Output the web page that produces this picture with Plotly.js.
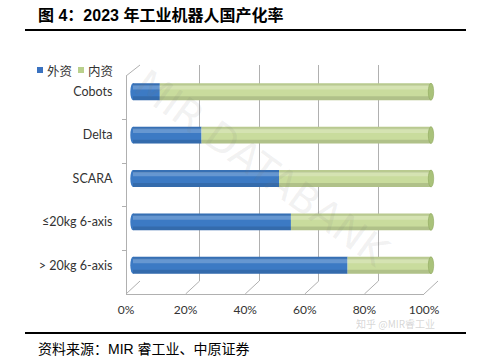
<!DOCTYPE html>
<html><head><meta charset="utf-8">
<script src="https://cdn.plot.ly/plotly-3.0.1.min.js"></script>
<style>html,body{margin:0;padding:0;background:#fff}#chart{width:479px;height:362px}</style>
</head><body><div id="chart"></div>
<script>
// ---- data ----
const categories = ['Cobots', 'Delta', 'SCARA', '≤20kg 6-axis', '> 20kg 6-axis'];
const foreignShare = [9, 23, 49, 53, 72];    // 外资
const domesticShare = [91, 77, 51, 47, 28];  // 内资
const seriesNames = ['外资', '内资'];
const tickValues = [0, 20, 40, 60, 80, 100];
const tickLabels = ['0%', '20%', '40%', '60%', '80%', '100%'];

// ---- layout helpers (pixels -> paper) ----
const W = 479, H = 362;
const px = x => x / W;
const py = y => 1 - y / H;

const BLUE = '#3c7ac4', GREEN = '#c9dc9d';
const totals = foreignShare.map((v, i) => v + domesticShare[i]);
const BW = 0.39;

const font = {family: 'Lato, "Noto Sans CJK SC", sans-serif', size: 12, color: '#333333'};
const catFont = {family: 'Lato, "Noto Sans CJK SC", sans-serif', size: 12.5, color: '#333333'};

const traces = [
  // dummy trace for the back-plane grid subplot
  {type: 'scatter', x: [0], y: [0], xaxis: 'x', yaxis: 'y', mode: 'markers',
   marker: {opacity: 0}, hoverinfo: 'skip', showlegend: false},
  {type: 'bar', orientation: 'h', name: seriesNames[0], y: categories, x: foreignShare, base: 0,
   width: BW, marker: {color: BLUE, line: {width: 0}}, xaxis: 'x2', yaxis: 'y2', showlegend: false},
  {type: 'bar', orientation: 'h', name: seriesNames[1], y: categories, x: domesticShare, base: foreignShare,
   width: BW, marker: {color: GREEN, line: {width: 0}}, xaxis: 'x2', yaxis: 'y2', showlegend: false},
  // cylinder highlight / shadow bands
  {type: 'bar', orientation: 'h', y: categories, x: totals, base: 0, width: 0.1, offset: -0.15,
   marker: {color: 'rgba(255,255,255,0.22)', line: {width: 0}}, xaxis: 'x2', yaxis: 'y2',
   hoverinfo: 'skip', showlegend: false},
  {type: 'bar', orientation: 'h', y: categories, x: totals, base: 0, width: 0.06, offset: -0.195,
   marker: {color: 'rgba(0,0,0,0.08)', line: {width: 0}}, xaxis: 'x2', yaxis: 'y2',
   hoverinfo: 'skip', showlegend: false},
  {type: 'bar', orientation: 'h', y: categories, x: totals, base: 0, width: 0.09, offset: 0.105,
   marker: {color: 'rgba(0,0,0,0.12)', line: {width: 0}}, xaxis: 'x2', yaxis: 'y2',
   hoverinfo: 'skip', showlegend: false},
  // dummy trace for the front axes
  {type: 'scatter', x: [0], y: [0], xaxis: 'x3', yaxis: 'y3', mode: 'markers',
   marker: {opacity: 0}, hoverinfo: 'skip', showlegend: false}
];

const GRID = '#b0b0b0';
const shapes = [];
// frame lines of the 3D box
shapes.push({type: 'line', xref: 'paper', yref: 'paper', x0: px(126), y0: py(76), x1: px(140), y1: py(65), line: {color: GRID, width: 1}});
tickValues.forEach(v => {
  const fx = 126 + v / 100 * 298, bx = 140 + v / 100 * 298;
  shapes.push({type: 'line', xref: 'paper', yref: 'paper', x0: px(fx), y0: py(294), x1: px(bx), y1: py(281), line: {color: GRID, width: 1}});
});
// top/bottom rules
shapes.push({type: 'line', xref: 'paper', yref: 'paper', x0: px(25), x1: px(466), y0: py(30), y1: py(30), line: {color: '#000', width: 2}});
shapes.push({type: 'line', xref: 'paper', yref: 'paper', x0: px(25), x1: px(466), y0: py(333), y1: py(333), line: {color: '#000', width: 2}});
// legend squares
shapes.push({type: 'rect', xref: 'paper', yref: 'paper', x0: px(37), x1: px(43), y0: py(73), y1: py(67), fillcolor: '#3a72c0', line: {width: 0}});
shapes.push({type: 'rect', xref: 'paper', yref: 'paper', x0: px(78), x1: px(84), y0: py(73), y1: py(67), fillcolor: '#b9d08c', line: {width: 0}});
// cylinder end caps (from the data)
categories.forEach((c, i) => {
  shapes.push({type: 'circle', xref: 'x2', yref: 'y2', x0: -0.9, x1: 0.9, y0: i - BW / 2, y1: i + BW / 2,
    fillcolor: BLUE, line: {width: 0}, layer: 'below'});
  shapes.push({type: 'circle', xref: 'x2', yref: 'y2', x0: totals[i] - 0.9, x1: totals[i] + 0.9, y0: i - BW / 2, y1: i + BW / 2,
    fillcolor: '#a9c27a', line: {color: '#8ea85e', width: 0.6}, layer: 'above'});
});

const annotations = [
  {xref: 'paper', yref: 'paper', x: px(36), y: py(15), xanchor: 'left', yanchor: 'middle', showarrow: false,
   text: '<b>图 4：2023 年工业机器人国产化率</b>',
   font: {family: '"Liberation Sans", "Noto Sans CJK SC", sans-serif', size: 16, color: '#000'}},
  {xref: 'paper', yref: 'paper', x: px(36), y: py(349), xanchor: 'left', yanchor: 'middle', showarrow: false,
   text: '资料来源：MIR 睿工业、中原证券',
   font: {family: '"Liberation Sans", "Noto Sans CJK SC", sans-serif', size: 14, color: '#000'}},
  {xref: 'paper', yref: 'paper', x: px(45), y: py(70), xanchor: 'left', yanchor: 'middle', showarrow: false,
   text: seriesNames[0], font: {family: '"Noto Sans CJK SC", sans-serif', size: 12.5, color: '#333333'}},
  {xref: 'paper', yref: 'paper', x: px(86), y: py(70), xanchor: 'left', yanchor: 'middle', showarrow: false,
   text: seriesNames[1], font: {family: '"Noto Sans CJK SC", sans-serif', size: 12.5, color: '#333333'}},
  // watermarks
  {xref: 'paper', yref: 'paper', x: px(262), y: py(168), xanchor: 'center', yanchor: 'middle', showarrow: false,
   text: 'MIR DATABANK', textangle: 36,
   font: {family: '"DejaVu Sans", sans-serif', size: 40, color: 'rgba(120,120,120,0.10)'}},
  {xref: 'paper', yref: 'paper', x: px(395), y: py(323), xanchor: 'center', yanchor: 'middle', showarrow: false,
   text: '知乎 @MIR睿工业',
   font: {family: '"Noto Sans CJK SC", sans-serif', size: 10, color: 'rgba(150,150,150,0.4)'}}
];

const layout = {
  width: W, height: H,
  margin: {l: 0, r: 0, t: 0, b: 0},
  paper_bgcolor: '#fff', plot_bgcolor: 'rgba(0,0,0,0)',
  barmode: 'overlay', showlegend: false, font: font,
  // back-plane grid
  xaxis: {domain: [px(140), px(438)], range: [0, 100], tickvals: tickValues, showgrid: true,
          gridcolor: GRID, gridwidth: 1, showticklabels: false, zeroline: false, showline: false,
          ticks: '', anchor: 'y', fixedrange: true},
  yaxis: {domain: [py(281), py(65)], range: [0, 1], showgrid: false, showticklabels: false,
          zeroline: false, showline: false, ticks: '', anchor: 'x', fixedrange: true},
  // bars (mid-depth)
  xaxis2: {domain: [px(133 - 1.5 * 2.98), px(431 + 1.5 * 2.98)], range: [-1.5, 101.5], showgrid: false,
           showticklabels: false, zeroline: false, showline: false, ticks: '', anchor: 'y2', fixedrange: true},
  yaxis2: {domain: [py(287), py(70)], type: 'category', categoryorder: 'array', categoryarray: categories,
           range: [4.5, -0.5], showgrid: false, zeroline: false, showline: false,
           anchor: 'free', position: px(126), ticks: 'outside', ticklen: 11, tickcolor: 'rgba(0,0,0,0)',
           tickfont: catFont, fixedrange: true},
  // front floor / left wall
  xaxis3: {domain: [px(126), px(424)], range: [0, 100], tickvals: tickValues, ticktext: tickLabels,
           showgrid: false, zeroline: false, showline: true, linecolor: GRID, linewidth: 1,
           anchor: 'free', position: py(294), ticks: 'outside', ticklen: 5, tickcolor: 'rgba(0,0,0,0)',
           tickfont: font, fixedrange: true},
  yaxis3: {domain: [py(294), py(76)], range: [4.5, -0.5], tickvals: [0.5, 1.5, 2.5, 3.5],
           showgrid: false, zeroline: false, showline: true, linecolor: GRID, linewidth: 1,
           showticklabels: false, ticks: 'outside', ticklen: 4, tickcolor: GRID,
           anchor: 'free', position: px(126), fixedrange: true},
  shapes: shapes,
  annotations: annotations
};

Plotly.newPlot('chart', traces, layout, {displayModeBar: false, staticPlot: true});
</script></body></html>
